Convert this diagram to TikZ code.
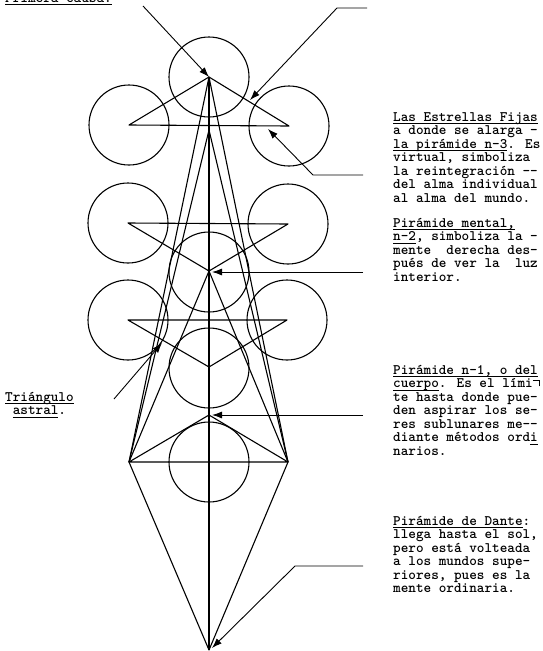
\documentclass[tikz,border=0pt]{standalone}
\usepackage{fontspec}
\usetikzlibrary{arrows.meta}
\newcommand\ulx[1]{\setbox0\hbox{#1}\rlap{\rule[-2.6pt]{\wd0}{0.9pt}}\box0}
\newcommand\hookmark{\makebox[0pt][l]{\raisebox{0.5em}{\rule{0.4em}{0.8pt}}\rule[0.1em]{0.8pt}{0.48em}}}
\begin{document}
\begin{tikzpicture}[x=1pt,y=-1pt,
  ln/.style={line width=1.1pt, line join=round},
  ring/.style={circle, draw, line width=1.1pt, minimum size=80pt, inner sep=0pt},
  arr/.style={line width=0.9pt, -{Latex[length=10pt,width=7pt]}},
  txt/.style={anchor=north west, inner sep=0pt, align=left, font=\ttfamily\bfseries\fontsize{14.5}{13.5}\selectfont},
]
\useasboundingbox (0,0) rectangle (543,651);
% key points
\coordinate (A) at (209,77);
\coordinate (A2) at (209,130);
\coordinate (L1) at (129,125); \coordinate (R1) at (289,126);
\coordinate (L2) at (128,223); \coordinate (R2) at (288,224);
\coordinate (M2) at (209,271);
\coordinate (L3) at (128,320); \coordinate (R3) at (287,320);
\coordinate (M3) at (209,367);
\coordinate (P4) at (209,415);
\coordinate (L4) at (129,462); \coordinate (R4) at (288,462);
\coordinate (C4) at (209,462);
\coordinate (B) at (209,650);
% circles
\node[ring] (cA) at (A) {};
\node[ring] (cL1) at (L1) {};
\node[ring] (cR1) at (R1) {};
\node[ring] (cL2) at (L2) {};
\node[ring] (cR2) at (R2) {};
\node[ring] (cM2) at (209,272) {};
\node[ring] (cL3) at (L3) {};
\node[ring] (cR3) at (R3) {};
\node[ring] (cM3) at (209,368) {};
\node[ring] (cC4) at (C4) {};
% triangles and pyramids
\draw[ln] (A) -- (L1) -- (R1) -- cycle;
\draw[ln] (L2) -- (R2) -- (M2) -- cycle;
\draw[ln] (L3) -- (R3) -- (M3) -- cycle;
\draw[ln] (P4) -- (L4) -- (R4) -- cycle;
\draw[ln] (L4) -- (B) -- (R4);
\draw[ln] (A) -- (B);
\draw[ln] (L4) -- (A) -- (R4);
\draw[ln] (L4) -- (A2) -- (R4);
\draw[ln] (L4) -- (M2) -- (R4);
% arrows
\coordinate (s1) at (143,6);
\draw[arr] (s1) -- (A);
\coordinate (s2) at (367,8); \coordinate (k2) at (337,8); \coordinate (e2) at (250,100);
\draw[arr] (s2) -- (k2) -- (e2);
\coordinate (s3) at (363,175); \coordinate (k3) at (313,175); \coordinate (e3) at (268,129);
\draw[arr] (s3) -- (k3) -- (e3);
\coordinate (s4) at (363,272); \coordinate (e4) at (212,272);
\draw[arr] (s4) -- (e4);
\coordinate (s5) at (363,415); \coordinate (e5) at (212,415);
\draw[arr] (s5) -- (e5);
\coordinate (s6) at (363,566); \coordinate (k6) at (295,566); \coordinate (e6) at (212,648);
\draw[arr] (s6) -- (k6) -- (e6);
\coordinate (s7) at (114,399); \coordinate (e7) at (162,343);
\draw[arr] (s7) -- (e7);
% texts (north west anchor: top of first line about 10pt above its baseline)
\node[txt, anchor=base west] (t0) at (5,2) {\setbox0\hbox{Primera causa.}\rlap{\rule[-3.3pt]{\wd0}{1.8pt}}\box0};
\node[txt] (t1) at (393,112) {\ulx{Las Estrellas Fijas}\\a donde se alarga -\\\ulx{la pirámide n-3}. Es\\virtual, simboliza\\la reintegración -{}-\\del alma individual\\al alma del mundo.};
\node[txt] (t2) at (393,218) {\ulx{Pirámide mental,}\\\ulx{n-2}, simboliza la -\\mente~ derecha des-\\pués de ver la~ luz\\interior.};
\node[txt] (t3) at (393,365) {\ulx{Pirámide n-1, o del}\\\ulx{cuerpo}. Es el lími\hookmark\\te hasta donde pue-\\den aspirar los se-\\res sublunares me-{}-\\diante métodos ord\ulx{i}\\narios.};
\node[txt] (t4) at (393,516) {\ulx{Pirámide de Dante}:\\llega hasta el sol,\\pero está volteada\\a los mundos supe-\\riores, pues es la\\mente ordinaria.};
\node[txt] (t5) at (5,392) {\ulx{Triángulo}\\\hspace*{7.6pt}\ulx{astral}.};
\end{tikzpicture}
\end{document}
